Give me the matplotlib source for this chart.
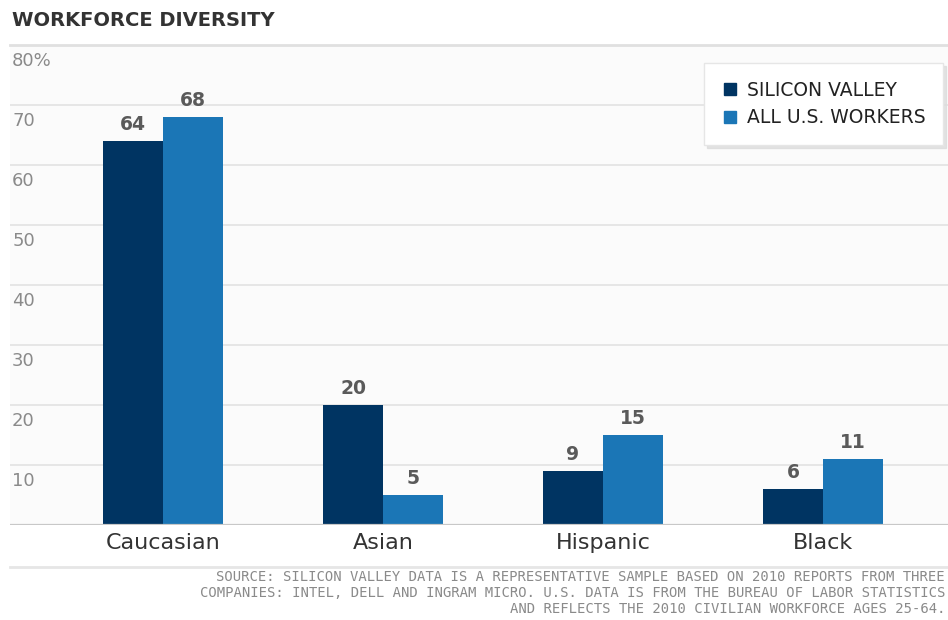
import matplotlib
matplotlib.use("Agg")
import matplotlib.pyplot as plt
from matplotlib.lines import Line2D
import numpy as np

plt.rcParams['font.family'] = ['DejaVu Sans']

# data
categories = ["Caucasian", "Asian", "Hispanic", "Black"]
silicon_valley = [64, 20, 9, 6]
all_us_workers = [68, 5, 15, 11]
series_names = ["SILICON VALLEY", "ALL U.S. WORKERS"]
y_ticks = [10, 20, 30, 40, 50, 60, 70, 80]
y_tick_labels = ["10", "20", "30", "40", "50", "60", "70", "80%"]
title = "WORKFORCE DIVERSITY"
source_lines = [
    "SOURCE: SILICON VALLEY DATA IS A REPRESENTATIVE SAMPLE BASED ON 2010 REPORTS FROM THREE",
    "COMPANIES: INTEL, DELL AND INGRAM MICRO. U.S. DATA IS FROM THE BUREAU OF LABOR STATISTICS",
    "AND REFLECTS THE 2010 CIVILIAN WORKFORCE AGES 25-64.",
]

dark = "#003462"
light = "#1b76b6"

W, H = 948, 620
fig = plt.figure(figsize=(W / 100, H / 100), dpi=100)
fig.patch.set_facecolor("white")

# plot area: x 10..948 px, y 45..525 px
ax = fig.add_axes([10 / W, (H - 525) / H, (W - 10) / W, 480 / H])
ax.set_facecolor("#fbfbfb")

x = np.arange(len(categories))
bw = 60 / 220
ax.bar(x - bw / 2, silicon_valley, bw, color=dark, zorder=3, label=series_names[0])
ax.bar(x + bw / 2, all_us_workers, bw, color=light, zorder=3, label=series_names[1])

for xi, v in zip(x - bw / 2, silicon_valley):
    ax.annotate(str(v), (xi, v), xytext=(0, 5), textcoords="offset points",
                ha="center", va="bottom", fontsize=13.5, fontweight="bold", color="#5a5a5a")
for xi, v in zip(x + bw / 2, all_us_workers):
    ax.annotate(str(v), (xi, v), xytext=(0, 5), textcoords="offset points",
                ha="center", va="bottom", fontsize=13.5, fontweight="bold", color="#5a5a5a")

ax.set_xlim(-153 / 220, 3 + 125 / 220)
ax.set_ylim(0, 80)

for v in y_ticks:
    ax.axhline(v, color="#e4e4e4", lw=1.3, zorder=1)
ax.axhline(0, color="#c8c8c8", lw=1.6, zorder=4)

ax.set_yticks([])
for v, lab in zip(y_ticks, y_tick_labels):
    ax.annotate(lab, (0, v), xycoords=("axes fraction", "data"), xytext=(1.5, -5),
                textcoords="offset points", ha="left", va="top",
                fontsize=13, color="#8a8a8a")

ax.set_xticks(x)
ax.set_xticklabels(categories, fontsize=16, color="#333333")
ax.tick_params(axis="x", length=0, pad=6)
for s in ax.spines.values():
    s.set_visible(False)

# top rule and bottom rule
fig.add_artist(Line2D([10 / W, 1], [(H - 45) / H] * 2, color="#e0e0e0", lw=2))
fig.add_artist(Line2D([10 / W, 1], [(H - 567) / H] * 2, color="#e6e6e6", lw=2))

fig.text(12 / W, (H - 20) / H, title, fontsize=14, fontweight="bold",
         color="#333333", ha="left", va="center")

handles = [Line2D([], [], marker="s", ls="", markersize=9, color=dark),
           Line2D([], [], marker="s", ls="", markersize=9, color=light)]
leg = fig.legend(handles, series_names, loc="upper right",
                 bbox_to_anchor=(943 / W, (H - 63) / H), fontsize=13.5,
                 frameon=True, fancybox=False,
                 shadow={"color": "#dcdcdc", "alpha": 0.8},
                 handlelength=0.8, handletextpad=0.5, labelspacing=0.45,
                 borderpad=0.95, borderaxespad=0)
leg.get_frame().set_edgecolor("#e6e6e6")
leg.get_frame().set_facecolor("white")
for t in leg.get_texts():
    t.set_color("#222222")

for i, line in enumerate(source_lines):
    fig.text(945 / W, (H - 577 - 16 * i) / H, line, fontsize=10,
             family="DejaVu Sans Mono", color="#8a8a8a", ha="right", va="center")

fig.savefig("out.png", dpi=100)
